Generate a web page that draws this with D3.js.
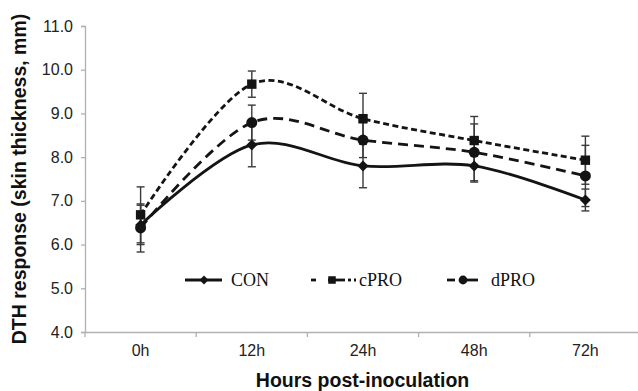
<!DOCTYPE html>
<html><head><meta charset="utf-8">
<script src="https://cdn.jsdelivr.net/npm/d3@7"></script>
<style>html,body{margin:0;padding:0;background:#fff;}svg{display:block;}</style>
</head><body>
<svg id="chart" width="638" height="391"></svg>
<script>
const categories = ["0h", "12h", "24h", "48h", "72h"];
const conValues  = [6.45, 8.28, 7.80, 7.80, 7.02];
const conErr     = [0.45, 0.50, 0.50, 0.37, 0.25];
const cproValues = [6.68, 9.67, 8.88, 8.38, 7.93];
const cproErr    = [0.64, 0.30, 0.58, 0.55, 0.55];
const dproValues = [6.38, 8.79, 8.39, 8.11, 7.57];
const dproErr    = [0.55, 0.40, 0.40, 0.65, 0.70];
const yTicks = [4, 5, 6, 7, 8, 9, 10, 11];
const seriesNames = ["CON", "cPRO", "dPRO"];

(function () {
const series = [
  {name: seriesNames[0], values: conValues, err: conErr, dash: null, marker: "diamond"},
  {name: seriesNames[1], values: cproValues, err: cproErr, dash: "6,3.5", marker: "square"},
  {name: seriesNames[2], values: dproValues, err: dproErr, dash: "10,6", marker: "circle"}
];

const svg = d3.select("#chart");
const mLeft = 85, mRight = 641, mTop = 26, mBottom = 332;
const x = d3.scaleBand().domain(categories).range([mLeft, mRight]).padding(0);
const y = d3.scaleLinear().domain([4, 11]).range([mBottom, mTop]);
const cx = c => x(c) + x.bandwidth() / 2;
const axisColor = "#b0b0b0";
const ink = "#141414";
const tickFont = "16px";

// Y axis
const yAxis = d3.axisLeft(y).tickValues(yTicks).tickFormat(d3.format(".1f")).tickSize(4).tickPadding(8);
const gy = svg.append("g").attr("transform", `translate(${mLeft},0)`).call(yAxis);
gy.select(".domain").attr("stroke", axisColor).attr("stroke-width", 1.3);
gy.selectAll(".tick line").attr("stroke", axisColor).attr("stroke-width", 1.3);
gy.selectAll(".tick text").attr("font-family", "Liberation Sans, Arial, sans-serif").attr("font-size", tickFont).attr("fill", "#222");

// X axis
const xAxis = d3.axisBottom(x).tickSize(0).tickPadding(13);
const gx = svg.append("g").attr("transform", `translate(0,${mBottom})`).call(xAxis);
gx.select(".domain").attr("stroke", axisColor).attr("stroke-width", 1.3);
gx.selectAll(".tick text").attr("font-family", "Liberation Sans, Arial, sans-serif").attr("font-size", tickFont).attr("fill", "#222");
gx.selectAll(".bandtick").data(categories).enter().append("line")
  .attr("x1", d => x(d)).attr("x2", d => x(d)).attr("y1", 0).attr("y2", 5)
  .attr("stroke", axisColor).attr("stroke-width", 1.3);

// Axis titles
svg.append("text").attr("transform", `translate(26,${(mTop + mBottom) / 2}) rotate(-90)`)
  .attr("text-anchor", "middle").attr("font-family", "Liberation Sans, Arial, sans-serif")
  .attr("font-weight", "bold").attr("font-size", "19.5px").attr("fill", "#111")
  .text("DTH response (skin thickness, mm)");
svg.append("text").attr("x", (mLeft + mRight) / 2 - 0.5).attr("y", 387)
  .attr("text-anchor", "middle").attr("font-family", "Liberation Sans, Arial, sans-serif")
  .attr("font-weight", "bold").attr("font-size", "19.5px").attr("fill", "#111")
  .text("Hours post-inoculation");

// Lines
const line = d3.line().x((d, i) => cx(categories[i])).y(d => y(d)).curve(d3.curveCardinal.tension(0));
series.forEach(s => {
  svg.append("path").datum(s.values).attr("d", line)
    .attr("fill", "none").attr("stroke", ink).attr("stroke-width", 2.8)
    .attr("stroke-dasharray", s.dash);
});

// Error bars
series.forEach(s => {
  const g = svg.append("g").attr("stroke", "#3a3a3a").attr("stroke-width", 1.4);
  s.values.forEach((v, i) => {
    const px = cx(categories[i]);
    const y1 = y(v + s.err[i]), y2 = y(v - s.err[i]);
    g.append("line").attr("x1", px).attr("x2", px).attr("y1", y1).attr("y2", y2);
    g.append("line").attr("x1", px - 4).attr("x2", px + 4).attr("y1", y1).attr("y2", y1);
    g.append("line").attr("x1", px - 4).attr("x2", px + 4).attr("y1", y2).attr("y2", y2);
  });
});

// Markers
function drawMarker(g, type, px, py, size) {
  if (type === "diamond") {
    const r = size * 0.55;
    g.append("path").attr("d", `M${px},${py - r}L${px + r},${py}L${px},${py + r}L${px - r},${py}Z`).attr("fill", ink);
  } else if (type === "square") {
    const h = size * 0.47;
    g.append("rect").attr("x", px - h).attr("y", py - h).attr("width", 2 * h).attr("height", 2 * h).attr("fill", ink);
  } else {
    g.append("circle").attr("cx", px).attr("cy", py).attr("r", size * 0.55).attr("fill", ink);
  }
}
series.forEach(s => {
  const g = svg.append("g");
  s.values.forEach((v, i) => drawMarker(g, s.marker, cx(categories[i]), y(v), 10));
});

// Legend
const legendY = 280;
const legendItems = [
  {s: series[0], segs: [[185, 222]], mx: 204, tx: 231},
  {s: series[1], segs: [[311, 316], [328, 345], [348, 351], [354, 356]], mx: 332, tx: 359},
  {s: series[2], segs: [[447, 455], [460, 478]], mx: 463, tx: 491}
];
legendItems.forEach(it => {
  const g = svg.append("g");
  it.segs.forEach(seg => {
    g.append("line").attr("x1", seg[0]).attr("x2", seg[1]).attr("y1", legendY).attr("y2", legendY)
      .attr("stroke", ink).attr("stroke-width", 2.8);
  });
  drawMarker(g, it.s.marker, it.mx, legendY, 8);
  g.append("text").attr("x", it.tx).attr("y", legendY + 6)
    .attr("font-family", "Liberation Serif, Times New Roman, serif").attr("font-size", "18px").attr("fill", "#111")
    .text(it.s.name);
});
})();
</script>
</body></html>
